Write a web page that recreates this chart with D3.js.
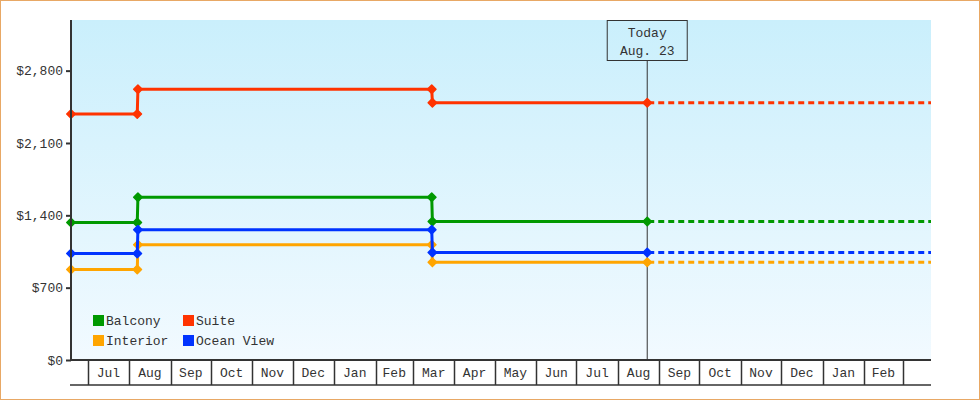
<!DOCTYPE html>
<html>
<head>
<meta charset="utf-8">
<script src="https://cdn.jsdelivr.net/npm/d3@7"></script>
<style>
  body { margin: 0; background: #fff; }
  text { font-family: "Liberation Mono", "DejaVu Sans Mono", monospace; font-size: 13px; fill: #333; }
</style>
</head>
<body>
<div id="container"></div>
<script>
/** DATA */
const seriesNames = ["Balcony", "Interior", "Suite", "Ocean View"];
const seriesColors = ["#009900", "#ffa500", "#ff3300", "#0033ff"];
const dates = ["2014-06-18T12:00", "2014-08-07T00:00", "2014-08-07T12:00",
               "2015-03-15T00:00", "2015-03-15T12:00", "2015-08-23T00:00"];
const balcony = [1330, 1330, 1575, 1575, 1340, 1340];
const interior = [875, 875, 1115, 1115, 945, 945];
const suite = [2380, 2380, 2620, 2620, 2490, 2490];
const oceanView = [1030, 1030, 1260, 1260, 1040, 1040];
const domainEnd = "2016-03-22T00:00";
const yTicks = [0, 700, 1400, 2100, 2800];
const yMax = 3290;
const todayLabel = ["Today", "Aug. 23"];

/** CONSTANTS */
const width = 980, height = 400;
const margin = { top: 20, bottom: 40, left: 71, right: 49 };
const parse = d3.timeParse("%Y-%m-%dT%H:%M");

const svg = d3.select("#container").append("svg")
  .attr("width", width)
  .attr("height", height);

// outer frame
svg.append("rect")
  .attr("x", 0.5).attr("y", 0.5)
  .attr("width", width - 1).attr("height", height - 1)
  .attr("fill", "#fff").attr("stroke", "#e8a865");

const x = d3.scaleTime()
  .domain([parse(dates[0]), parse(domainEnd)])
  .range([margin.left, width - margin.right]);
const y = d3.scaleLinear()
  .domain([0, yMax])
  .range([height - margin.bottom, margin.top]);

const x0 = x.range()[0], x1 = x.range()[1];
const yB = y(0), yT = y(yMax);

// background gradient
const grad = svg.append("defs").append("linearGradient")
  .attr("id", "bg").attr("x1", 0).attr("y1", 0).attr("x2", 0).attr("y2", 1);
grad.append("stop").attr("offset", "0%").attr("stop-color", "#caeffc");
grad.append("stop").attr("offset", "100%").attr("stop-color", "#f2faff");

svg.append("rect")
  .attr("x", x0).attr("y", yT)
  .attr("width", x1 - x0).attr("height", yB - yT)
  .attr("fill", "url(#bg)");

// today marker line + box
const today = parse(dates[dates.length - 1]);
const tx = x(today);
svg.append("line")
  .attr("x1", tx).attr("x2", tx)
  .attr("y1", yT + 40).attr("y2", yB)
  .attr("stroke", "#333").attr("stroke-width", 1);
svg.append("rect")
  .attr("x", tx - 40).attr("y", yT + 0.5)
  .attr("width", 80).attr("height", 40)
  .attr("fill", "none").attr("stroke", "#333").attr("stroke-width", 1);
svg.selectAll(".today-label")
  .data(todayLabel)
  .join("text")
  .attr("class", "today-label")
  .attr("x", tx)
  .attr("y", (d, i) => yT + 17 + i * 18)
  .attr("text-anchor", "middle")
  .text(d => d);

// series
const series = [balcony, interior, suite, oceanView].map((vals, i) => ({
  name: seriesNames[i],
  color: seriesColors[i],
  points: vals.map((v, j) => ({ date: parse(dates[j]), value: v }))
}));

const line = d3.line().x(d => x(d.date)).y(d => y(d.value));
const diamond = d3.symbol().type(d3.symbolSquare).size(36);

series.forEach(s => {
  const g = svg.append("g");
  const last = s.points[s.points.length - 1];
  g.append("line")
    .attr("x1", x(last.date)).attr("x2", x1)
    .attr("y1", y(last.value)).attr("y2", y(last.value))
    .attr("stroke", s.color).attr("stroke-width", 3)
    .attr("stroke-dasharray", "6,4").attr("stroke-dashoffset", -1);
  g.append("path")
    .datum(s.points)
    .attr("d", line)
    .attr("fill", "none")
    .attr("stroke", s.color)
    .attr("stroke-width", 3);
  g.selectAll("path.pt")
    .data(s.points)
    .join("path")
    .attr("class", "pt")
    .attr("d", diamond)
    .attr("transform", d => `translate(${x(d.date)},${y(d.value)}) rotate(45)`)
    .attr("fill", s.color)
    .attr("stroke", s.color)
    .attr("stroke-width", 1.5)
    .attr("stroke-linejoin", "round");
});

// y axis
const yAxis = svg.append("g")
  .attr("transform", `translate(${x0},0)`)
  .call(d3.axisLeft(y).tickValues(yTicks).tickFormat(d3.format("$,")).tickSize(5).tickPadding(3));
yAxis.select(".domain").remove();
yAxis.selectAll(".tick line").attr("stroke", "#333").attr("stroke-width", 2);
yAxis.selectAll(".tick text").attr("font-family", null).attr("font-size", null);
yAxis.attr("font-family", null).attr("font-size", null);
svg.append("line")
  .attr("x1", x0).attr("x2", x0).attr("y1", yT).attr("y2", yB + 1)
  .attr("stroke", "#333").attr("stroke-width", 2);

// x axis: month cells
const xAxisBottom = yB + 25;
svg.append("line")
  .attr("x1", x0 - 1).attr("x2", x1).attr("y1", yB).attr("y2", yB)
  .attr("stroke", "#333").attr("stroke-width", 2);
svg.append("line")
  .attr("x1", x0 - 1).attr("x2", x1).attr("y1", xAxisBottom).attr("y2", xAxisBottom)
  .attr("stroke", "#333").attr("stroke-width", 1.5);

const months = d3.timeMonth.range(x.domain()[0], x.domain()[1]);
svg.selectAll(".month-border")
  .data(months)
  .join("line")
  .attr("class", "month-border")
  .attr("x1", d => Math.round(x(d)) + 0.5).attr("x2", d => Math.round(x(d)) + 0.5)
  .attr("y1", yB).attr("y2", xAxisBottom)
  .attr("stroke", "#333").attr("stroke-width", 1.5);

const fullMonths = months.filter(d => d3.timeMonth.offset(d, 1) <= x.domain()[1]);
svg.selectAll(".month-label")
  .data(fullMonths)
  .join("text")
  .attr("class", "month-label")
  .attr("x", d => (x(d) + x(d3.timeMonth.offset(d, 1))) / 2)
  .attr("y", yB + 17)
  .attr("text-anchor", "middle")
  .text(d => d3.timeFormat("%b")(d));

// legend (two columns, filled column-first)
const legend = svg.append("g").attr("transform", `translate(${x0 + 22},${yB - 45})`);
const items = legend.selectAll("g")
  .data(series)
  .join("g")
  .attr("transform", (d, i) => `translate(${Math.floor(i / 2) * 90},${(i % 2) * 20})`);
items.append("rect")
  .attr("width", 11).attr("height", 11)
  .attr("fill", d => d.color);
items.append("text")
  .attr("x", 13).attr("y", 10)
  .text(d => d.name);
</script>
</body>
</html>
